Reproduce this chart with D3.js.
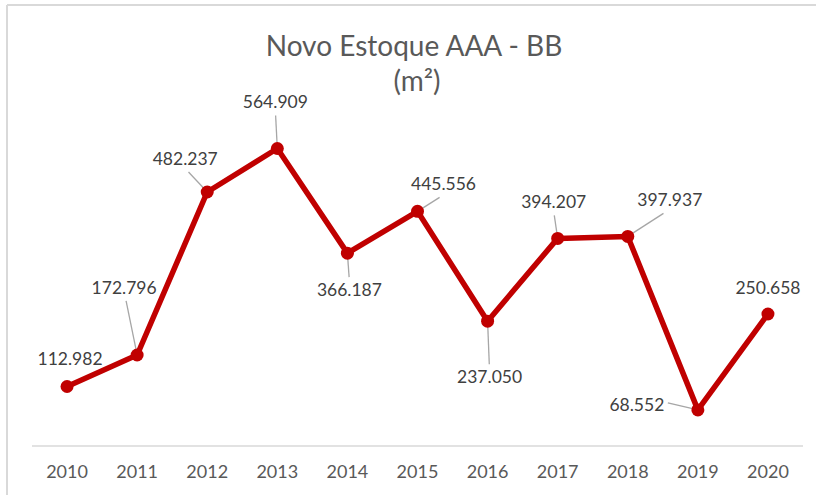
<!DOCTYPE html>
<html>
<head>
  <meta charset="utf-8">
  <title>Novo Estoque AAA - BB</title>
  <script src="https://d3js.org/d3.v7.min.js"></script>
  <style>
    body { margin: 0; background: #fff; font-family: Lato, "Open Sans", sans-serif; }
    .frame { stroke: #d9d9d9; stroke-width: 2px; }
    .title { fill: #595959; font-size: 28px; }
    .axis-label { fill: #595959; font-size: 18px; }
    .value-label { fill: #404040; font-size: 17.5px; }
    .leader { stroke: #a6a6a6; stroke-width: 1.3px; }
    .series { fill: none; stroke: #c00000; stroke-width: 5.5px; stroke-linejoin: round; }
    .dot { fill: #c00000; }
  </style>
</head>
<body>
  <div id="chart"></div>
  <script>
    // dados
    const years = ["2010", "2011", "2012", "2013", "2014", "2015", "2016", "2017", "2018", "2019", "2020"];
    const stock = [112982, 172796, 482237, 564909, 366187, 445556, 237050, 394207, 397937, 68552, 250658];

    // posição dos rótulos em relação ao ponto (dx, dy) e se tem linha de chamada
    const labelOffsets = [
      [3, -21, false], [-13, -61, true], [-22, -27, true], [-2, -40, true],
      [2, 43, true], [26, -21, true], [2, 62, true], [-4, -30, true],
      [42, -30, true], [-61, 1, true], [0, -20, false]
    ];

    const width = 816, height = 495;
    const fmt = v => d3.format(",")(v).replace(/,/g, ".");

    const svg = d3.select("#chart").append("svg")
      .attr("width", width).attr("height", height);

    // moldura (só topo e esquerda aparecem)
    svg.append("line").attr("class", "frame").attr("x1", 7).attr("y1", 5).attr("x2", width).attr("y2", 5);
    svg.append("line").attr("class", "frame").attr("x1", 7).attr("y1", 5).attr("x2", 7).attr("y2", height);

    const x = d3.scaleBand().domain(years).range([32, 803]);
    const y = d3.scaleLinear().domain([0, 600000]).range([446, 130]);
    const cx = d => x(d) + x.bandwidth() / 2;

    // título
    svg.append("text").attr("class", "title").attr("x", 414).attr("y", 56)
      .attr("text-anchor", "middle").text("Novo Estoque AAA - BB");
    svg.append("text").attr("class", "title").attr("x", 417).attr("y", 91)
      .attr("text-anchor", "middle").text("(m²)");

    // eixo x
    svg.append("line").attr("x1", 32).attr("x2", 803).attr("y1", y(0)).attr("y2", y(0))
      .attr("stroke", "#d9d9d9").attr("stroke-width", 1.5);
    svg.selectAll(".axis-label").data(years).enter().append("text")
      .attr("class", "axis-label")
      .attr("x", d => cx(d)).attr("y", 478)
      .attr("text-anchor", "middle").text(d => d);

    const pts = years.map((yr, i) => ({ yr, v: stock[i], px: cx(yr), py: y(stock[i]), off: labelOffsets[i] }));

    // linhas de chamada
    svg.selectAll(".leader").data(pts.filter(p => p.off[2])).enter().append("line")
      .attr("class", "leader")
      .attr("x1", p => p.px).attr("y1", p => p.py)
      .attr("x2", p => {
        const [dx, dy] = p.off;
        if (Math.abs(dy) < 10) return p.px + dx + 31; // rótulo à esquerda
        return p.px + dx * 0.85;
      })
      .attr("y2", p => {
        const [dx, dy] = p.off;
        if (Math.abs(dy) < 10) return p.py - 7;
        return dy < 0 ? p.py + dy + 7 : p.py + dy - 19;
      });

    // série
    const line = d3.line().x(p => p.px).y(p => p.py);
    svg.append("path").datum(pts).attr("class", "series").attr("d", line);
    svg.selectAll(".dot").data(pts).enter().append("circle")
      .attr("class", "dot").attr("cx", p => p.px).attr("cy", p => p.py).attr("r", 6.5);

    // rótulos de valor
    svg.selectAll(".value-label").data(pts).enter().append("text")
      .attr("class", "value-label")
      .attr("x", p => p.px + p.off[0]).attr("y", p => p.py + p.off[1])
      .attr("text-anchor", "middle").text(p => fmt(p.v));
  </script>
</body>
</html>
